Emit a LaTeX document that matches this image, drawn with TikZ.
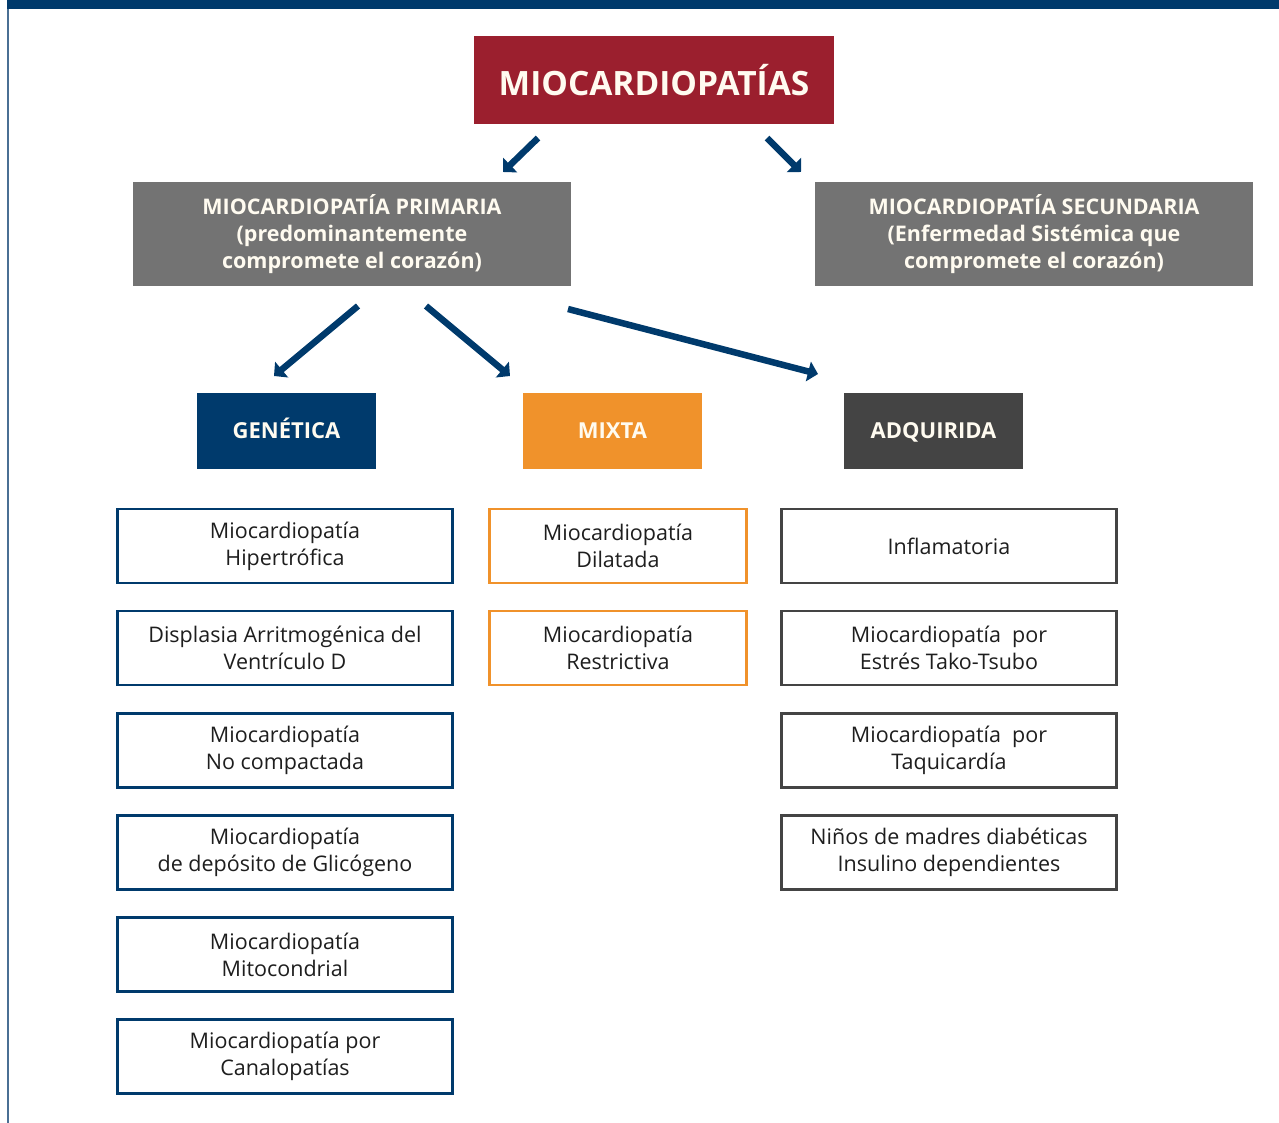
\documentclass[tikz,border=0pt]{standalone}
\usepackage{fontspec}
\setmainfont{Open Sans}
\usetikzlibrary{arrows.meta,positioning}
\definecolor{navy}{HTML}{003A6C}
\definecolor{wine}{HTML}{9B1F2E}
\definecolor{slate}{HTML}{737373}
\definecolor{amber}{HTML}{F0922B}
\definecolor{charcoal}{HTML}{444444}
\definecolor{cream}{HTML}{FFFBF0}
\definecolor{ink}{HTML}{1E1E1E}
\definecolor{rule}{HTML}{4A6F94}

\begin{document}
\begin{tikzpicture}[x=1pt, y=-1pt,
    node distance=25.5pt,
    head/.style={fill=#1, text=cream, align=center, inner sep=0pt, font=\bfseries\fontsize{21.5}{27}\selectfont},
    item/.style={draw=#1, line width=2.6pt, fill=white, text=ink, align=center, inner sep=0pt,
                 minimum width=335pt, minimum height=74pt, font=\fontsize{21.5}{27}\selectfont},
    arrow/.style={-{Triangle[width=20pt,length=10pt]}, line width=6.5pt, navy}
]
\useasboundingbox (0,0) rectangle (1279,1123);
\fill[navy] (7,0) rectangle (1279,9);
\draw[rule, line width=2pt] (8,9) -- (8,1123);

% heads
\node[head=wine, minimum width=360pt, minimum height=88pt, font=\bfseries\fontsize{33.5}{36}\selectfont] (root) at (654,80) {MIOCARDIOPATÍAS};
\node[head=slate, minimum width=438pt, minimum height=104pt] (prim) at (352,234) {MIOCARDIOPATÍA PRIMARIA\\(predominantemente\\compromete el corazón)};
\node[head=slate, minimum width=438pt, minimum height=104pt] (sec) at (1034,234) {MIOCARDIOPATÍA SECUNDARIA\\(Enfermedad Sistémica que\\compromete el corazón)};

\node[head=navy, minimum width=179pt, minimum height=76pt, text height=15.5pt, text depth=0pt, font=\bfseries\fontsize{22}{27}\selectfont] (gen) at (286.5,431) {GENÉTICA};
\node[head=amber, minimum width=179pt, minimum height=76pt, text height=15.5pt, text depth=0pt, font=\bfseries\fontsize{22}{27}\selectfont] (mix) at (612.5,431) {MIXTA};
\node[head=charcoal, minimum width=179pt, minimum height=76pt, text height=15.5pt, text depth=0pt, font=\bfseries\fontsize{22}{27}\selectfont] (adq) at (933.5,431) {ADQUIRIDA};

% genetica
\node[item=navy] (hip) at (285,546) {Miocardiopatía\\Hipertrófica};
\node[item=navy, below=of hip] (dav) {Displasia Arritmogénica del\\Ventrículo D};
\node[item=navy, below=of dav] (noc) {Miocardiopatía\\No compactada};
\node[item=navy, below=of noc] (gly) {Miocardiopatía\\de depósito de Glicógeno};
\node[item=navy, below=of gly] (mit) {Miocardiopatía\\Mitocondrial};
\node[item=navy, below=of mit] (can) {Miocardiopatía por\\Canalopatías};

% mixta
\node[item=amber, minimum width=257pt] (dil) at (618,546) {Miocardiopatía\\Dilatada};
\node[item=amber, minimum width=257pt, below=of dil] (res) {Miocardiopatía\\Restrictiva};

% adquirida
\node[item=charcoal] (inf) at (949,546) {Inflamatoria};
\node[item=charcoal, below=of inf] (tak) {Miocardiopatía~ por\\Estrés Tako-Tsubo};
\node[item=charcoal, below=of tak] (taq) {Miocardiopatía~ por\\Taquicardía};
\node[item=charcoal, below=of taq] (nin) {Niños de madres diabéticas\\Insulino dependientes};

% arrows
\coordinate (r1) at (538,138);
\coordinate (r1e) at (503,172);
\coordinate (r2) at (767,138);
\coordinate (r2e) at (801,172);
\coordinate (p1) at (358,306);
\coordinate (p1e) at (274,376);
\coordinate (p2) at (426,306);
\coordinate (p2e) at (510,376);
\coordinate (p3) at (568,309);
\coordinate (p3e) at (818,374);

\draw[arrow] (r1) -- (r1e);
\draw[arrow] (r2) -- (r2e);
\draw[arrow] (p1) -- (p1e);
\draw[arrow] (p2) -- (p2e);
\draw[arrow] (p3) -- (p3e);
\end{tikzpicture}
\end{document}
